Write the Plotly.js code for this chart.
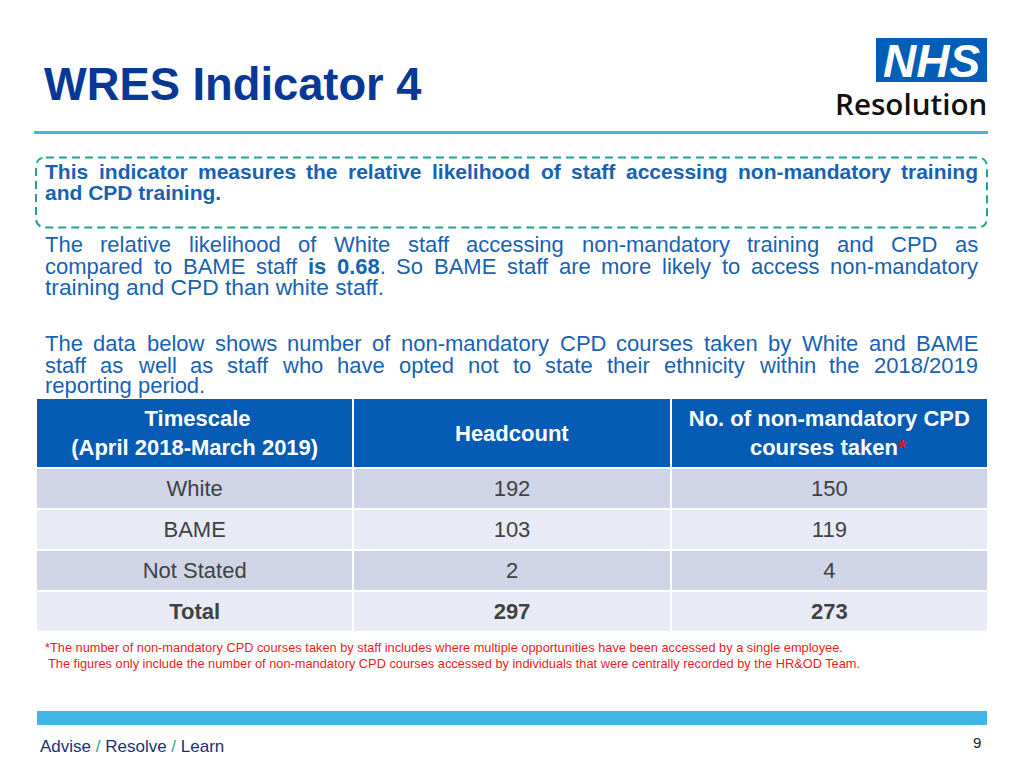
<!DOCTYPE html>
<html>
<head>
<meta charset="utf-8">
<script src="https://cdn.plot.ly/plotly-3.0.1.min.js"></script>
<style>html,body{margin:0;padding:0;background:#fff;}#chart{width:1024px;height:768px;}</style>
</head>
<body>
<div id="chart"></div>
<script>
// ---------- data ----------
const headerLines = [
  ['Timescale', '(April 2018-March 2019)'],
  ['Headcount'],
  ['No. of non-mandatory CPD', 'courses taken<span style="fill:#e8101a">*</span>']
];
const categories = ['White', 'BAME', 'Not Stated', 'Total'];
const headcount = [192, 103, 2, 297];
const coursesTaken = [150, 119, 4, 273];

const titleText = 'WRES Indicator 4';
const boxLines = [
  'This indicator measures the relative likelihood of staff accessing non-mandatory training',
  'and CPD training.'
];
const para1Lines = [
  'The relative likelihood of White staff accessing non-mandatory training and CPD as',
  'compared to BAME staff <b>is</b> <b>0.68</b>. So BAME staff are more likely to access non-mandatory',
  'training and CPD than white staff.'
];
const para2Lines = [
  'The data below shows number of non-mandatory CPD courses taken by White and BAME',
  'staff as well as staff who have opted not to state their ethnicity within the 2018/2019',
  'reporting period.'
];
const footnotes = [
  '*The number of non-mandatory CPD courses taken by staff includes where multiple opportunities have been accessed by a single employee.',
  'The figures only include the number of non-mandatory CPD courses accessed by individuals that were centrally recorded by the HR&OD Team.'
];

// ---------- helpers ----------
const W = 1024, H = 768;
const FX = x => x / W;
const FY = y => 1 - y / H;
const FAM = '"Liberation Sans", Arial, sans-serif';
const cvs = document.createElement('canvas');
const ctx = cvs.getContext('2d');
function measure(token, size, boldAll) {
  let w = 0; const re = /<b>(.*?)<\/b>|([^<]+)/g; let m;
  const plain = token.replace(/<span[^>]*>|<\/span>/g, '');
  while ((m = re.exec(plain)) !== null) {
    const bold = boldAll || m[1] !== undefined;
    ctx.font = (bold ? 'bold ' : '') + size + 'px "Liberation Sans"';
    w += ctx.measureText(m[1] !== undefined ? m[1] : m[2]).width;
  }
  return w;
}
const annotations = [];
function addText(text, x, y, size, color, opts) {
  opts = opts || {};
  annotations.push({
    text: text, x: FX(x), y: FY(y), xref: 'paper', yref: 'paper',
    xanchor: opts.xanchor || 'left', yanchor: 'middle', showarrow: false,
    borderpad: 0, borderwidth: 0,
    font: {family: opts.family || FAM, size: size, color: color,
           weight: opts.weight || (opts.bold ? 'bold' : 'normal'), style: opts.italic ? 'italic' : 'normal'}
  });
}
function justify(line, x0, x1, y, size, color, bold) {
  const words = line.split(' ');
  const widths = words.map(w => measure(w, size, bold));
  const total = widths.reduce((a, b) => a + b, 0);
  const gap = (x1 - x0 - total) / (words.length - 1);
  let x = x0;
  words.forEach((w, i) => { addText(w, x, y, size, color, {bold: bold}); x += widths[i] + gap; });
}
// centre every line of a multi-line header cell by padding shorter lines
function centredHeader(lines, size) {
  const widths = lines.map(l => measure(l, size, true));
  const maxW = Math.max.apply(null, widths);
  ctx.font = 'bold ' + size + 'px "Liberation Sans"';
  const sp = ctx.measureText('\u00a0').width;
  return lines.map((l, i) => '\u00a0'.repeat(Math.round((maxW - widths[i]) / 2 / sp)) + l).join('<br>');
}

// ---------- texts ----------
addText(titleText, 44, 84.5, 45.3, '#083896', {bold: true});
addText('NHS', 931, 61, 46, '#ffffff', {bold: true, italic: true, xanchor: 'center'});
addText('Resolution', 910.5, 104, 29.6, '#111111', {family: '"Open Sans", sans-serif', weight: 600, xanchor: 'center'});

const blue = '#1862B3';
justify(boxLines[0], 45, 978, 171.5, 21, blue, true);
addText(boxLines[1], 45, 192.5, 21, blue, {bold: true});

justify(para1Lines[0], 45, 978, 244.5, 22, blue, false);
justify(para1Lines[1], 45, 978, 266, 22, blue, false);
addText(para1Lines[2], 45, 286.5, 22.8, blue);

justify(para2Lines[0], 45, 978, 343.5, 22, blue, false);
justify(para2Lines[1], 45, 978, 365, 22, blue, false);
addText(para2Lines[2], 45, 385.5, 22, blue);

addText(footnotes[0], 45, 647.5, 12.8, '#ee1c25');
addText(footnotes[1], 48, 663, 12.8, '#ee1c25');

addText('Advise <span style="color:#2ba58c">/</span> Resolve <span style="color:#2ba58c">/</span> Learn', 40, 746, 17, '#1a2f78');
addText('9', 977, 742, 15, '#222222', {xanchor: 'center'});

// ---------- shapes ----------
const r = 10, bx0 = 36, bx1 = 987, by0 = 157.5, by1 = 227.5;
const P = (x, y) => FX(x) + ',' + FY(y);
const boxPath = 'M' + P(bx0 + r, by0) + ' L' + P(bx1 - r, by0) + ' Q' + P(bx1, by0) + ' ' + P(bx1, by0 + r) +
  ' L' + P(bx1, by1 - r) + ' Q' + P(bx1, by1) + ' ' + P(bx1 - r, by1) +
  ' L' + P(bx0 + r, by1) + ' Q' + P(bx0, by1) + ' ' + P(bx0, by1 - r) +
  ' L' + P(bx0, by0 + r) + ' Q' + P(bx0, by0) + ' ' + P(bx0 + r, by0) + ' Z';

const shapes = [
  {type: 'line', xref: 'paper', yref: 'paper', x0: FX(34), x1: FX(988), y0: FY(132.5), y1: FY(132.5), line: {color: '#41B6E6', width: 3}},
  {type: 'rect', xref: 'paper', yref: 'paper', x0: FX(876), x1: FX(987), y0: FY(38), y1: FY(82), fillcolor: '#005EB8', line: {width: 0}, layer: 'below'},
  {type: 'path', xref: 'paper', yref: 'paper', path: boxPath, line: {color: '#1DA591', width: 2, dash: '8px,5px'}},
  {type: 'rect', xref: 'paper', yref: 'paper', x0: FX(37), x1: FX(987), y0: FY(711), y1: FY(725), fillcolor: '#41B6E6', line: {width: 0}}
];

// ---------- table ----------
const HS = 22;
const TX0 = 36, TX1 = 988, TY0 = 398, TY1 = 632;
// single-line header labels are centred vertically in the header band (Plotly tables top-align text)
const headerValues = headerLines.map((lines, i) => {
  if (lines.length === 1) {
    const cx = TX0 + (TX1 - TX0) * (i + 0.5) / headerLines.length;
    addText('<b>' + lines[0] + '</b>', cx, 433, HS, '#ffffff', {xanchor: 'center'});
    return '';
  }
  return '<b>' + centredHeader(lines, HS) + '</b>';
});
const isTotal = categories.map(c => c === 'Total');
// trailing <br> keeps the cell text on Plotly's no-wrap layout path
const fmt = (v, i) => (isTotal[i] ? '<b>' + v + '</b>' : String(v)) + '<br>';
const rowFill = categories.map((c, i) => i % 2 === 0 ? '#CFD5E7' : '#E8EBF5');

const table = {
  type: 'table',
  domain: {x: [FX(TX0), FX(TX1)], y: [FY(TY1), FY(TY0)]},
  columnwidth: [1, 1, 1],
  header: {
    values: headerValues,
    align: 'center',
    height: 63,
    fill: {color: '#065BB5'},
    line: {color: '#ffffff', width: 2},
    font: {family: FAM, size: HS, color: '#ffffff'}
  },
  cells: {
    values: [categories.map(fmt), headcount.map(fmt), coursesTaken.map(fmt)],
    align: 'center',
    height: 41,
    fill: {color: [rowFill, rowFill, rowFill]},
    line: {color: '#ffffff', width: 2},
    font: {family: FAM, size: 22, color: '#414141'}
  }
};

const layout = {
  width: W, height: H,
  margin: {l: 0, r: 0, t: 0, b: 0},
  paper_bgcolor: '#ffffff', plot_bgcolor: '#ffffff',
  showlegend: false,
  annotations: annotations,
  shapes: shapes
};

Plotly.newPlot('chart', [table], layout, {staticPlot: true, displayModeBar: false});
</script>
</body>
</html>
